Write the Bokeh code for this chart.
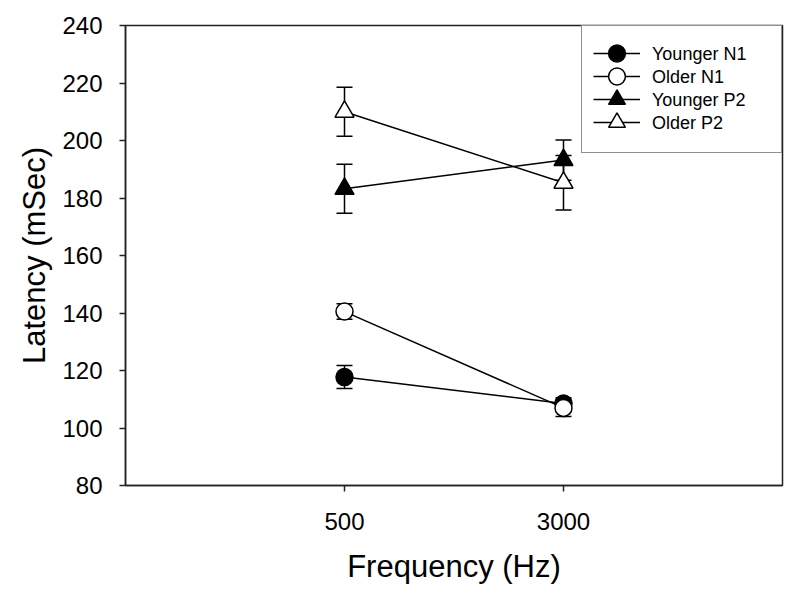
from bokeh.plotting import figure
from bokeh.models import (ColumnDataSource, Whisker, TeeHead, FixedTicker,
                          Legend, LegendItem, Range1d)
from bokeh.embed import file_html
from bokeh.resources import INLINE

# ---- data ----
freq_labels = ["500", "3000"]
x_pos = [1, 2]

younger_n1 = [117.7, 108.5]
younger_n1_err = [4.0, 2.0]
older_n1 = [140.5, 107.0]
older_n1_err = [2.7, 3.0]
younger_p2 = [183.2, 193.2]
younger_p2_err = [8.5, 7.0]
older_p2 = [210.0, 185.3]
older_p2_err = [8.5, 9.5]

y_ticks = [80, 100, 120, 140, 160, 180, 200, 220, 240]

FONT = "Liberation Sans"

p = figure(frame_width=657, frame_height=460,
           min_border_left=125, min_border_right=10,
           min_border_top=25, min_border_bottom=100,
           x_range=Range1d(0, 3), y_range=Range1d(80, 240),
           output_backend="svg", toolbar_location=None)

p.xgrid.visible = False
p.ygrid.visible = False
p.outline_line_color = "#222222"
p.outline_line_width = 1.5
p.background_fill_color = "white"
p.border_fill_color = "white"

for ax in (p.xaxis[0], p.yaxis[0]):
    ax.axis_line_color = "#222222"
    ax.axis_line_width = 1.5
    ax.major_tick_line_color = "#222222"
    ax.major_tick_line_width = 1.5
    ax.major_tick_out = 6
    ax.major_tick_in = 0
    ax.minor_tick_line_color = None
    ax.major_label_text_font = FONT
    ax.major_label_text_font_size = "24px"
    ax.major_label_text_color = "black"
    ax.axis_label_text_font = FONT
    ax.axis_label_text_font_size = "31px"
    ax.axis_label_text_font_style = "normal"
    ax.axis_label_text_color = "black"

p.xaxis.ticker = FixedTicker(ticks=x_pos)
p.xaxis.major_label_overrides = {x: lab for x, lab in zip(x_pos, freq_labels)}
p.xaxis.axis_label = "Frequency (Hz)"
p.xaxis.major_label_standoff = 21
p.xaxis.axis_label_standoff = 16

p.yaxis.ticker = FixedTicker(ticks=y_ticks)
p.yaxis.axis_label = "Latency (mSec)"
p.yaxis.major_label_standoff = 17
p.yaxis.axis_label_standoff = 7

series = [
    ("Younger N1", younger_n1, younger_n1_err, "circle", "black", 17),
    ("Older N1", older_n1, older_n1_err, "circle", "white", 17),
    ("Younger P2", younger_p2, younger_p2_err, "triangle", "black", 19),
    ("Older P2", older_p2, older_p2_err, "triangle", "white", 19),
]

# invisible renderer used only so the text legend draws no symbols
blank = p.line(x=[], y=[], line_alpha=0)

box_items = []
glyph_items = []
for label, vals, errs, marker, fill, size in series:
    src = ColumnDataSource(dict(
        x=x_pos, y=vals,
        upper=[v + e for v, e in zip(vals, errs)],
        lower=[v - e for v, e in zip(vals, errs)],
    ))
    w = Whisker(base="x", upper="upper", lower="lower", source=src,
                line_color="black", line_width=1.5, level="underlay",
                upper_head=TeeHead(size=16, line_color="black", line_width=1.5),
                lower_head=TeeHead(size=16, line_color="black", line_width=1.5))
    p.add_layout(w)
    lr = p.line("x", "y", source=src, line_color="black", line_width=1.5)
    mr = p.scatter("x", "y", source=src, marker=marker, size=size,
                   fill_color=fill, line_color="black", line_width=1.5)
    box_items.append(LegendItem(label=label, renderers=[blank]))
    glyph_items.append(LegendItem(label=" ", renderers=[lr, mr]))

# legend box with labels (rows 23 px apart)
legend = Legend(items=box_items, location="top_right", margin=0,
                padding=18, spacing=2,
                glyph_width=40, glyph_height=20,
                label_height=20, label_width=111, label_standoff=12,
                label_text_font=FONT, label_text_font_size="18px",
                label_text_color="black",
                border_line_color="#222222", border_line_width=1.5,
                background_fill_color="white", background_fill_alpha=1.0)
p.add_layout(legend)

# larger legend symbols overlaid, one per row
for i, it in enumerate(glyph_items):
    lg = Legend(items=[it], location=(468, 411 - 23 * i), margin=0,
                padding=0, spacing=0,
                glyph_width=47, glyph_height=42,
                label_height=0, label_width=0, label_standoff=0,
                label_text_font_size="1px",
                border_line_color=None,
                background_fill_alpha=0.0)
    p.add_layout(lg)

open("out.html", "w").write(file_html(p, INLINE))
